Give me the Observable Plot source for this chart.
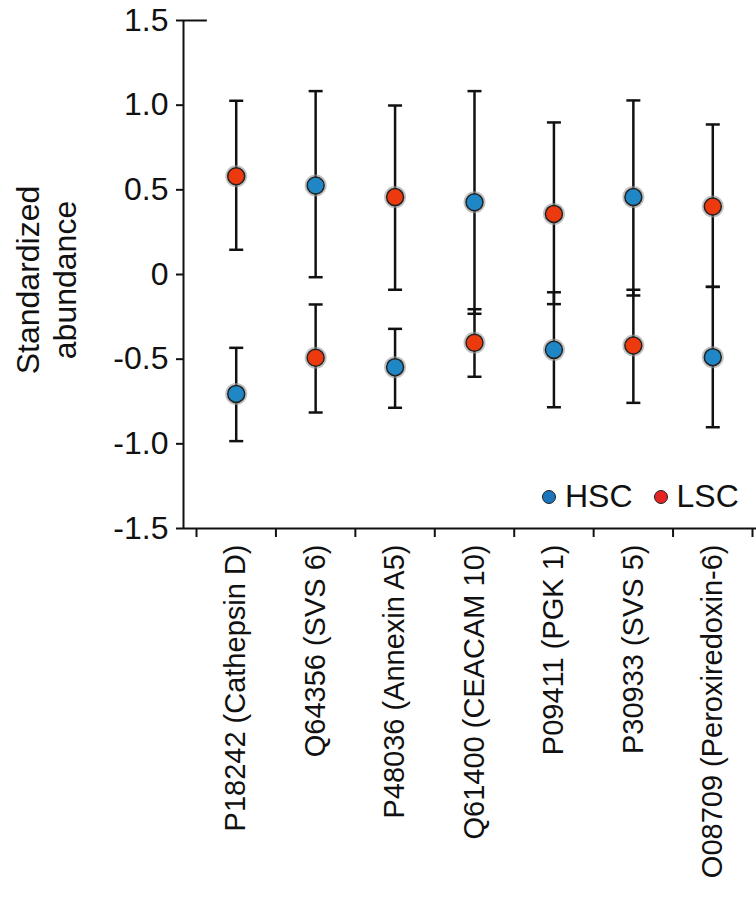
<!DOCTYPE html>
<html>
<head>
<meta charset="utf-8">
<script src="https://cdn.jsdelivr.net/npm/d3@7"></script>
<script src="https://cdn.jsdelivr.net/npm/@observablehq/plot@0.6"></script>
<style>
  html, body { margin: 0; padding: 0; background: #fff; }
  #wrap { position: relative; width: 756px; height: 901px; font-family: "Liberation Sans", Arial, Helvetica, sans-serif; color: #111; }
  #ylabel { position: absolute; left: 47px; top: 280px; transform: translate(-50%, -50%) rotate(-90deg); font-size: 32px; line-height: 37px; text-align: center; white-space: nowrap; }
  #legend { position: absolute; left: 542px; top: 478px; font-size: 32px; display: flex; align-items: center; white-space: nowrap; }
  #legend .sw { display: inline-block; width: 12px; height: 12px; border-radius: 50%; border: 1.5px solid #222; margin-right: 9px; }
  #legend .item { display: flex; align-items: center; margin-right: 21px; }
</style>
</head>
<body>
<div id="wrap">
  <div id="chart"></div>
  <div id="ylabel">Standardized<br>abundance</div>
  <div id="legend"></div>
</div>
<script>
const categories = ["P18242 (Cathepsin D)", "Q64356 (SVS 6)", "P48036 (Annexin A5)", "Q61400 (CEACAM 10)", "P09411 (PGK 1)", "P30933 (SVS 5)", "O08709 (Peroxiredoxin-6)"];
const groups = ["HSC", "LSC"];
const hscMean  = [-0.705, 0.526, -0.547, 0.427, -0.445, 0.457, -0.488];
const hscLower = [-0.984, -0.016, -0.787, -0.232, -0.784, -0.124, -0.902];
const hscUpper = [-0.433, 1.083, -0.321, 1.083, -0.105, 1.028, -0.073];
const lscMean  = [0.580, -0.492, 0.457, -0.403, 0.358, -0.419, 0.402];
const lscLower = [0.146, -0.815, -0.090, -0.604, -0.175, -0.758, -0.073];
const lscUpper = [1.026, -0.177, 0.998, -0.205, 0.898, -0.090, 0.886];
const yTicks = [-1.5, -1.0, -0.5, 0, 0.5, 1.0, 1.5];
const yTickLabels = ["-1.5", "-1.0", "-0.5", "0", "0.5", "1.0", "1.5"];

const colors = {HSC: "#1f87c5", LSC: "#ec3a0e"};
const legendColors = {HSC: "#1b75bc", LSC: "#e42526"};

const rows = [];
categories.forEach((c, i) => {
  rows.push({i, cat: c, group: "HSC", mean: hscMean[i], lo: hscLower[i], hi: hscUpper[i]});
  rows.push({i, cat: c, group: "LSC", mean: lscMean[i], lo: lscLower[i], hi: lscUpper[i]});
});

const idx = d3.range(categories.length);
const bounds = d3.range(categories.length + 1).map(k => k - 0.5);
const xDomain = [-0.6637, 6.5504];

const hbar = {
  draw(context, size) {
    const r = Math.sqrt(size / Math.PI);
    context.moveTo(-r, 0);
    context.lineTo(r, 0);
  }
};

const font = "'Liberation Sans', Arial, Helvetica, sans-serif";

const chart = Plot.plot({
  width: 756,
  height: 901,
  marginLeft: 183,
  marginRight: 0,
  marginTop: 20,
  marginBottom: 373,
  style: {fontFamily: font, color: "#111", background: "#fff"},
  x: {type: "linear", domain: xDomain},
  y: {domain: [-1.5, 1.5]},
  marks: [
    Plot.axisY({ticks: yTicks, tickFormat: d => yTickLabels[yTicks.indexOf(d)], tickSize: 7, tickPadding: 8, fontSize: 32, strokeWidth: 2, label: null}),
    Plot.axisX({ticks: bounds, tickFormat: () => "", tickSize: 9, strokeWidth: 2, label: null}),
    Plot.axisX({ticks: idx, tickFormat: i => categories[i], tickSize: 0, tickPadding: 16, tickRotate: -90, fontSize: 29, label: null}),
    Plot.ruleX([xDomain[0]], {y1: -1.5, y2: 1.5, strokeWidth: 2, stroke: "#111"}),
    Plot.ruleY([-1.5], {x1: xDomain[0], x2: xDomain[1], strokeWidth: 2, stroke: "#111"}),
    Plot.ruleY([1.5], {x1: xDomain[0], x2: xDomain[0] + 0.3, strokeWidth: 2, stroke: "#111"}),
    Plot.ruleX(rows, {x: "i", y1: "lo", y2: "hi", stroke: "#111", strokeWidth: 2.5}),
    Plot.dot(rows, {x: "i", y: "lo", symbol: hbar, r: 7, stroke: "#111", strokeWidth: 2.5}),
    Plot.dot(rows, {x: "i", y: "hi", symbol: hbar, r: 7, stroke: "#111", strokeWidth: 2.5}),
    Plot.dot(rows, {x: "i", y: "mean", r: 10, fill: "none", stroke: "#9a9a9a", strokeWidth: 2, strokeOpacity: 0.6}),
    Plot.dot(rows, {x: "i", y: "mean", r: 8.5, fill: d => colors[d.group], stroke: "#222", strokeWidth: 1.5})
  ]
});
document.getElementById("chart").appendChild(chart);

const legend = document.getElementById("legend");
groups.forEach(g => {
  const item = document.createElement("span");
  item.className = "item";
  const sw = document.createElement("span");
  sw.className = "sw";
  sw.style.background = legendColors[g];
  item.appendChild(sw);
  item.appendChild(document.createTextNode(g));
  legend.appendChild(item);
});
</script>
</body>
</html>
